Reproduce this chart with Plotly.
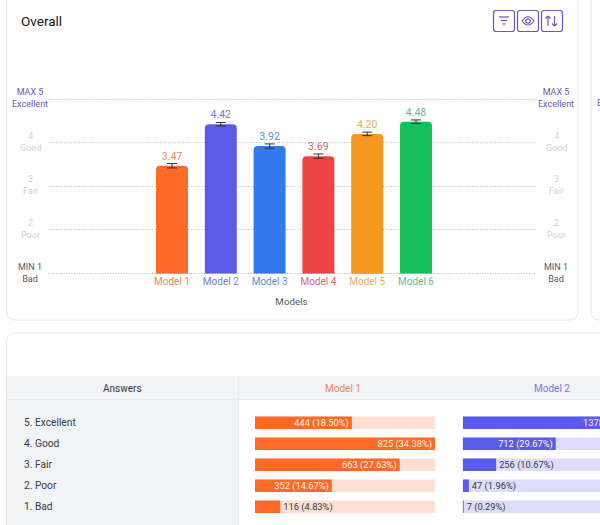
import plotly.graph_objects as go

FONT = "Roboto"
W, H = 600, 525

models = ["Model 1", "Model 2", "Model 3", "Model 4", "Model 5", "Model 6"]
scores = [3.47, 4.42, 3.92, 3.69, 4.20, 4.48]
errors = [0.05, 0.04, 0.05, 0.05, 0.04, 0.04]
colors = ["#FF6B26", "#5B5BEA", "#3478F0", "#EF4444", "#F59722", "#17BE5B"]
label_colors = ["#E58A5E", "#7B78D8", "#5E8CDD", "#D9686C", "#E5AE62", "#5BBE8A"]

scale_values = [5, 4, 3, 2, 1]
scale_top = ["MAX 5", "4", "3", "2", "MIN 1"]
scale_names = ["Excellent", "Good", "Fair", "Poor", "Bad"]
scale_colors = ["#6F55B5", "#CFCFD4", "#CFCFD4", "#CFCFD4", "#555A66"]

answers = ["5. Excellent", "4. Good", "3. Fair", "2. Poor", "1. Bad"]
m1_counts = [444, 825, 663, 352, 116]
m1_pct = [18.50, 34.38, 27.63, 14.67, 4.83]
m2_counts = [1378, 712, 256, 47, 7]
m2_pct = [57.42, 29.67, 10.67, 1.96, 0.29]

DOTS = "1px,1.6px"
CELL = 9.3


def px(x):
    return x / W


def py(y):
    return 1 - y / H


def rrect(x0, y0, x1, y1, r):
    return (f"M{px(x0+r)},{py(y0)} L{px(x1-r)},{py(y0)} Q{px(x1)},{py(y0)} {px(x1)},{py(y0+r)} "
            f"L{px(x1)},{py(y1-r)} Q{px(x1)},{py(y1)} {px(x1-r)},{py(y1)} "
            f"L{px(x0+r)},{py(y1)} Q{px(x0)},{py(y1)} {px(x0)},{py(y1-r)} "
            f"L{px(x0)},{py(y0+r)} Q{px(x0)},{py(y0)} {px(x0+r)},{py(y0)} Z")


def pshape(path, line="#E4E6EA", width=1, fill="rgba(0,0,0,0)", layer="below"):
    return dict(type="path", xref="paper", yref="paper", path=path, layer=layer,
                line=dict(color=line, width=width), fillcolor=fill)


def prect(x0, y0, x1, y1, fill, line=None):
    return dict(type="rect", xref="paper", yref="paper", x0=px(x0), x1=px(x1), y0=py(y0), y1=py(y1),
                fillcolor=fill, line=dict(width=1 if line else 0, color=line or fill), layer="below")


def pline(x0, y0, x1, y1, color="#6F55B5", width=1.2):
    return dict(type="line", xref="paper", yref="paper", x0=px(x0), x1=px(x1), y0=py(y0), y1=py(y1),
                line=dict(color=color, width=width), layer="above")


def note(text, xref, x, yref, y, size, color, xanchor="center", yshift=0):
    return dict(text=text, xref=xref, x=x, yref=yref, y=y, xanchor=xanchor, yanchor="middle", yshift=yshift,
                showarrow=False, align="center", font=dict(size=size, color=color, family=FONT))


fig = go.Figure()

fig.add_trace(go.Bar(
    x=models, y=scores, width=0.655,
    marker=dict(color=colors, cornerradius=4, line=dict(width=0)),
    error_y=dict(type="data", array=errors, color="#333333", thickness=1, width=5),
    text=[f"{v:.2f}" for v in scores], textposition="outside",
    textfont=dict(color=label_colors, size=10.5, family=FONT),
    cliponaxis=False, hoverinfo="skip", showlegend=False, xaxis="x", yaxis="y"))


def table_bars(counts, pct, col, track, xa):
    top = max(pct)
    fig.add_trace(go.Bar(y=answers, x=[top] * len(pct), orientation="h", width=0.6,
                         marker=dict(color=track, line=dict(width=0)), hoverinfo="skip",
                         showlegend=False, xaxis=xa, yaxis="y2"))
    text = [f"{c} ({p:.2f}%)" for c, p in zip(counts, pct)]
    pos = ["inside" if p / top > 0.3 else "outside" for p in pct]
    fig.add_trace(go.Bar(y=answers, x=pct, orientation="h", width=0.6,
                         marker=dict(color=col, line=dict(width=0)), text=text, textposition=pos,
                         insidetextanchor="end", constraintext="none", textangle=0,
                         insidetextfont=dict(color="#FFF3EC", size=CELL, family=FONT),
                         outsidetextfont=dict(color="#333A45", size=CELL, family=FONT),
                         cliponaxis=False, hoverinfo="skip", showlegend=False, xaxis=xa, yaxis="y2"))


table_bars(m1_counts, m1_pct, colors[0], "#FFDFD3", "x2")
table_bars(m2_counts, m2_pct, colors[1], "#DDDCF9", "x3")

shapes = [
    pshape(rrect(6.5, -12, 578, 320, 9), fill="#FFFFFF"),
    pshape(rrect(591, -12, 640, 320, 9), fill="#FFFFFF"),
    pshape(rrect(6.5, 333, 640, 560, 9), fill="#FFFFFF"),
    prect(7, 376, 600, 399.5, "#F1F3F5"),
    prect(7, 399.5, 238, 525, "#F1F3F5"),
    prect(238, 376, 238.8, 525, "#E4E6EA"),
    prect(7, 399, 600, 399.7, "#E6E8EB"),
]
# Toolbar buttons
for bx in (493.5, 517.5, 541.5):
    shapes.append(pshape(rrect(bx, 10.5, bx + 21, 31.5, 2.5), line="#6F55B5", width=1.2, layer="above"))
shapes += [pline(499, 17, 509, 17), pline(501, 20.5, 507, 20.5), pline(502.5, 24, 505.5, 24)]
shapes.append(pshape(
    f"M{px(522)},{py(21)} Q{px(528)},{py(12.5)} {px(534)},{py(21)} Q{px(528)},{py(29)} {px(522)},{py(21)} Z",
    line="#6F55B5", width=1.2, layer="above"))
shapes.append(dict(type="circle", xref="paper", yref="paper", x0=px(525.8), x1=px(530.2), y0=py(23.2), y1=py(18.8),
                   line=dict(color="#6F55B5", width=1.2), layer="above"))
shapes += [pline(548, 16, 548, 26), pline(545.5, 18.5, 548, 16), pline(550.5, 18.5, 548, 16),
           pline(554.5, 16, 554.5, 26), pline(552, 23.5, 554.5, 26), pline(557, 23.5, 554.5, 26)]
# Scale lines at both ends
shapes.append(dict(type="line", xref="x domain", yref="y", x0=0, x1=1, y0=5, y1=5, layer="below",
                   line=dict(color="#6F55B5", width=1, dash=DOTS)))
shapes.append(dict(type="line", xref="x domain", yref="y", x0=0, x1=1, y0=1, y1=1, layer="above",
                   line=dict(color="#555A66", width=1, dash=DOTS)))

annotations = [
    note("Overall", "paper", px(19), "paper", py(21), 13.5, "#111318", "left"),
    note(scale_names[0], "paper", px(595), "y", 5, 9, "#6F55B5", "left", -4),
    note("Answers", "paper", px(122), "paper", py(388), 10, "#333A45"),
    note(models[0], "paper", px(342.5), "paper", py(388), 10, label_colors[0]),
    note(models[1], "paper", px(551.5), "paper", py(388), 10, label_colors[1]),
    note(f"{m2_counts[0]} ({m2_pct[0]:.2f}%)", "paper", px(581), "y2", answers[0], CELL, "#F4F3FF", "left"),
]
for v, t, n, c in zip(scale_values, scale_top, scale_names, scale_colors):
    for xp in (30, 556):
        annotations.append(note(f"{t}<br>{n}", "paper", px(xp), "y", v, 9, c, yshift=1))
for a in answers:
    annotations.append(note(a, "paper", px(22), "y2", a, 10.2, "#333A45", "left"))

band = 48.8
x0_px, x1_px = 48, 535
fig.update_layout(
    width=W, height=H, margin=dict(l=0, r=0, t=0, b=0), autosize=False,
    paper_bgcolor="#FFFFFF", plot_bgcolor="rgba(0,0,0,0)", barmode="overlay",
    font=dict(family=FONT), shapes=shapes, annotations=annotations,
    xaxis=dict(domain=[px(x0_px), px(x1_px)], type="category", categoryorder="array", categoryarray=models,
               range=[(x0_px - 172) / band, (x1_px - 172) / band], showgrid=False, zeroline=False, showline=False,
               ticks="", tickmode="array", tickvals=models, ticklen=0,
               ticktext=[f"<span style='color:{c}'>{m}</span>" for m, c in zip(models, label_colors)],
               tickfont=dict(size=10, family=FONT),
               title=dict(text="Models", standoff=12, font=dict(size=9.8, color="#555A66", family=FONT))),
    yaxis=dict(domain=[py(273.5), py(99)], range=[1, 5], tickmode="array", tickvals=[2, 3, 4],
               showticklabels=False, showgrid=True, gridcolor="#BDBFC4", griddash=DOTS, gridwidth=1,
               zeroline=False, showline=False, ticks=""),
    xaxis2=dict(domain=[px(255), px(435)], range=[0, max(m1_pct)], visible=False, anchor="y2"),
    xaxis3=dict(domain=[px(462.7), 1], range=[0, max(m2_pct) * (600 - 462.7) / 180], visible=False, anchor="y2"),
    yaxis2=dict(domain=[py(517.2), py(412.2)], type="category", categoryorder="array", categoryarray=answers,
                range=[4.5, -0.5], visible=False, anchor="x2"),
)

fig.write_html("out.html", config={"displayModeBar": False}, post_script="document.body.style.margin='0';")
